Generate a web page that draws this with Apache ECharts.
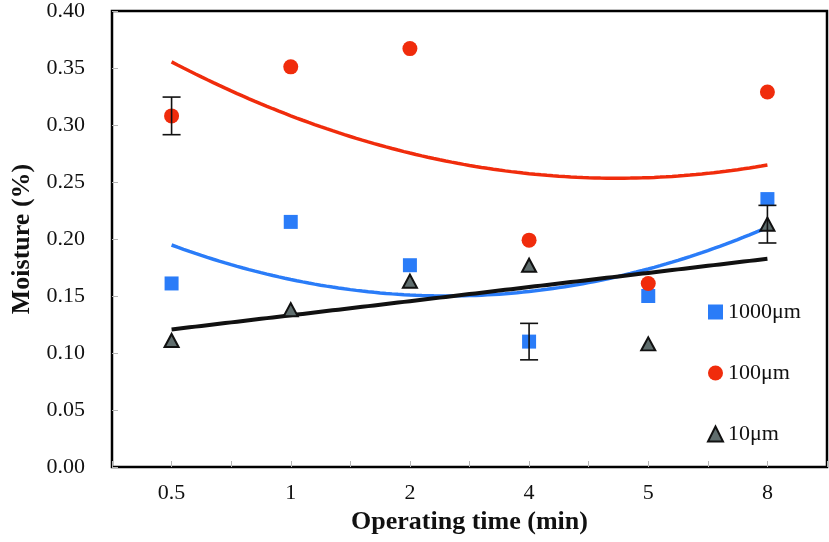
<!DOCTYPE html>
<html>
<head>
<meta charset="utf-8">
<script src="https://cdn.jsdelivr.net/npm/echarts@6/dist/echarts.min.js"></script>
<style>
  html, body { margin: 0; padding: 0; background: #fff; }
  #chart { width: 829px; height: 542px; }
</style>
</head>
<body>
<div id="chart"></div>
<script>
const categories = ['0.5', '1', '2', '4', '5', '8']
const yTicks = { min: 0, max: 0.4, interval: 0.05 }

const moisture1000 = [0.161, 0.215, 0.177, 0.110, 0.150, 0.235]
const moisture100 = [0.308, 0.351, 0.367, 0.199, 0.161, 0.329]
const moisture10 = [0.111, 0.138, 0.163, 0.177, 0.108, 0.213]

// error bars (half-width), null where none is drawn
const err1000 = [null, null, null, 0.016, null, null]
const err100 = [0.0165, null, null, null, null, null]
const err10 = [null, null, null, null, null, 0.0165]

const blue = '#2a7cf8'
const red = '#f02c0c'
const grey = '#5f6d6d'
const font = 'Liberation Serif'

// least squares polynomial trendline (like the spreadsheet one)
function polyfit(ys, degree) {
  const xs = ys.map((_, i) => i + 1)
  const n = degree + 1
  const A = []
  for (let r = 0; r < n; r++) {
    const row = []
    for (let c = 0; c < n; c++)
      row.push(xs.reduce((s, x) => s + Math.pow(x, r + c), 0))
    row.push(xs.reduce((s, x, i) => s + Math.pow(x, r) * ys[i], 0))
    A.push(row)
  }
  for (let i = 0; i < n; i++) {
    for (let k = i + 1; k < n; k++) {
      const f = A[k][i] / A[i][i]
      for (let j = i; j <= n; j++) A[k][j] -= f * A[i][j]
    }
  }
  const coef = new Array(n).fill(0)
  for (let i = n - 1; i >= 0; i--) {
    let s = A[i][n]
    for (let j = i + 1; j < n; j++) s -= A[i][j] * coef[j]
    coef[i] = s / A[i][i]
  }
  return coef
}

function trend(ys, degree) {
  const coef = polyfit(ys, degree)
  const pts = []
  for (let x = 1; x <= 6.0001; x += 0.05) {
    pts.push([x, coef.reduce((s, c, k) => s + c * Math.pow(x, k), 0)])
  }
  return pts
}

function errData(vals, errs) {
  const out = []
  vals.forEach((v, i) => {
    if (errs[i] != null) out.push([i, v - errs[i], v + errs[i]])
  })
  return out
}

function renderErr(params, api) {
  const lo = api.coord([api.value(0), api.value(1)])
  const hi = api.coord([api.value(0), api.value(2)])
  const half = 9
  const style = { stroke: '#111', lineWidth: 1.6 }
  return {
    type: 'group',
    children: [
      { type: 'line', shape: { x1: lo[0], y1: lo[1], x2: hi[0], y2: hi[1] }, style },
      { type: 'line', shape: { x1: lo[0] - half, y1: lo[1], x2: lo[0] + half, y2: lo[1] }, style },
      { type: 'line', shape: { x1: hi[0] - half, y1: hi[1], x2: hi[0] + half, y2: hi[1] }, style },
    ],
  }
}

const chart = echarts.init(document.getElementById('chart'))
chart.setOption({
  animation: false,
  grid: {
    left: 112, right: 2, top: 7, bottom: 75,
    show: true, borderColor: '#000', borderWidth: 2.5,
  },
  legend: {
    data: ['1000μm', '100μm', '10μm'],
    orient: 'vertical',
    left: 702,
    top: 296,
    itemWidth: 15,
    itemHeight: 15,
    itemGap: 39,
    textStyle: { fontFamily: font, fontSize: 22, color: '#111' },
  },
  xAxis: [{
    type: 'category',
    data: categories,
    axisLine: { show: false },
    axisTick: { show: false },
    axisLabel: { fontFamily: font, fontSize: 22, color: '#111', margin: 15 },
    name: 'Operating time (min)',
    nameLocation: 'middle',
    nameGap: 42,
    nameTextStyle: { fontFamily: font, fontSize: 26, fontWeight: 'bold', color: '#111' },
  }, {
    type: 'value',
    min: 0.5,
    max: 6.5,
    interval: 0.5,
    position: 'bottom',
    axisLine: { show: false },
    axisLabel: { show: false },
    splitLine: { show: false },
    axisTick: { show: true, inside: true, length: 6, lineStyle: { color: '#b5b5b5' } },
  }],
  yAxis: {
    type: 'value',
    min: yTicks.min,
    max: yTicks.max,
    interval: yTicks.interval,
    axisLine: { show: false },
    splitLine: { show: false },
    axisTick: { show: true, inside: true, length: 6, lineStyle: { color: '#b5b5b5' } },
    axisLabel: {
      fontFamily: font, fontSize: 22, color: '#111', margin: 27,
      formatter: v => v.toFixed(2),
    },
    name: 'Moisture (%)',
    nameLocation: 'middle',
    nameRotate: 90,
    nameGap: 77,
    nameTextStyle: { fontFamily: font, fontSize: 26, fontWeight: 'bold', color: '#111' },
  },
  series: [
    {
      name: 'trend100', type: 'line', xAxisIndex: 1, data: trend(moisture100, 2),
      showSymbol: false, lineStyle: { color: red, width: 3.5 }, z: 2,
    },
    {
      name: 'trend1000', type: 'line', xAxisIndex: 1, data: trend(moisture1000, 2),
      showSymbol: false, lineStyle: { color: blue, width: 3.5 }, z: 2,
    },
    {
      name: 'trend10', type: 'line', xAxisIndex: 1, data: trend(moisture10, 1),
      showSymbol: false, lineStyle: { color: '#111', width: 4 }, z: 2,
    },
    {
      name: '1000μm', type: 'scatter', data: moisture1000,
      symbol: 'rect', symbolSize: 14, itemStyle: { color: blue, opacity: 1 }, z: 3,
    },
    {
      name: '100μm', type: 'scatter', data: moisture100,
      symbol: 'circle', symbolSize: 15, itemStyle: { color: red, opacity: 1 }, z: 3,
    },
    {
      name: '10μm', type: 'scatter', data: moisture10,
      symbol: 'triangle', symbolSize: [14, 13],
      itemStyle: { color: grey, borderColor: '#111', borderWidth: 2, opacity: 1 }, z: 3,
    },
    { type: 'custom', renderItem: renderErr, data: errData(moisture1000, err1000), z: 4 },
    { type: 'custom', renderItem: renderErr, data: errData(moisture100, err100), z: 4 },
    { type: 'custom', renderItem: renderErr, data: errData(moisture10, err10), z: 4 },
  ],
})
</script>
</body>
</html>
